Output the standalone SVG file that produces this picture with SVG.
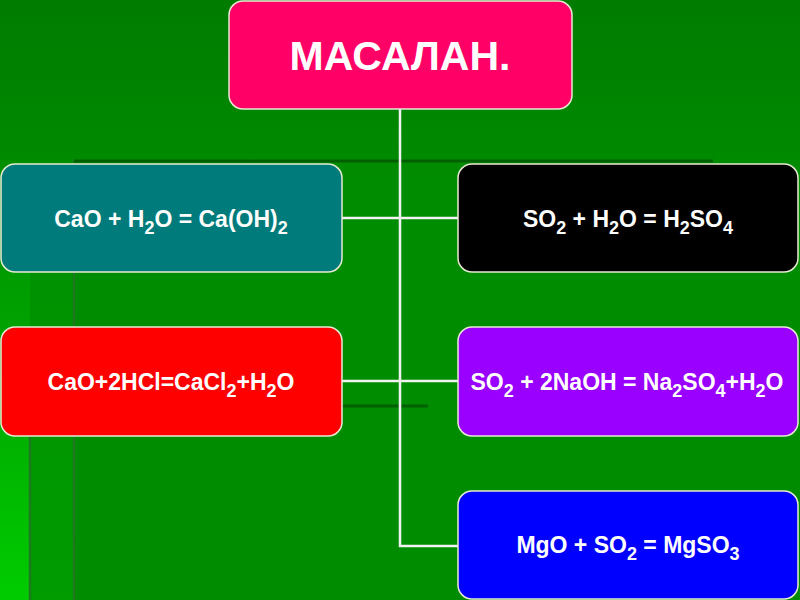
<svg xmlns="http://www.w3.org/2000/svg" width="800" height="600" viewBox="0 0 800 600">
<defs>
<linearGradient id="bg" x1="0" y1="0" x2="0" y2="1">
<stop offset="0" stop-color="#007c00"/>
<stop offset="0.3" stop-color="#008c00"/>
<stop offset="1" stop-color="#008c00"/>
</linearGradient>
<linearGradient id="strip" x1="0" y1="0" x2="0" y2="1">
<stop offset="0" stop-color="#008e00"/>
<stop offset="0.5" stop-color="#00a800"/>
<stop offset="1" stop-color="#00cc00"/>
</linearGradient>
<linearGradient id="strip2" x1="0" y1="0" x2="0" y2="1">
<stop offset="0" stop-color="#008e00"/>
<stop offset="1" stop-color="#009c00"/>
</linearGradient>
<style>
.box{stroke:#e6ead2;stroke-width:1.5}
.t{font-family:"Liberation Sans",Arial,sans-serif;font-weight:bold;fill:#ffffff;text-anchor:middle}
.eq{font-size:23px}
.s{font-size:18px}
.conn{stroke:#f2f2f2;stroke-width:2.5;fill:none}
.deco{stroke:#006000;stroke-width:3}
.decov{stroke:#1f7a1f;stroke-width:2.5}
</style>
</defs>
<g id="background">
<rect x="0" y="0" width="800" height="600" fill="url(#bg)"/>
<rect x="0" y="160" width="30" height="440" fill="url(#strip)"/>
<rect x="30" y="160" width="44" height="440" fill="url(#strip2)"/>
<line class="decov" x1="74" y1="160" x2="74" y2="600"/>
<line class="decov" x1="30" y1="406" x2="30" y2="600"/>
<line class="deco" x1="74" y1="161" x2="713" y2="161"/>
<line class="deco" x1="30" y1="406" x2="428" y2="406"/>
</g>
<g id="connectors">
<line class="conn" x1="400" y1="109" x2="400" y2="547"/>
<line class="conn" x1="342" y1="218" x2="458" y2="218"/>
<line class="conn" x1="342" y1="381" x2="458" y2="381"/>
<line class="conn" x1="399" y1="546" x2="458" y2="546"/>
</g>
<g id="title">
<rect class="box" x="229" y="1" width="343" height="108" rx="14" fill="#ff0066" stroke="#f5c8d8"/>
<text class="t" x="400" y="70" font-size="41">МАСАЛАН.</text>
</g>
<g id="cao-h2o">
<rect class="box" x="1" y="164" width="341" height="108" rx="14" fill="#007b7b"/>
<text class="t eq" x="171" y="227">CaO + H<tspan class="s" dy="7">2</tspan><tspan dy="-7">O = Ca(OH)</tspan><tspan class="s" dy="7">2</tspan></text>
</g>
<g id="so2-h2o">
<rect class="box" x="458" y="164" width="340" height="108" rx="14" fill="#000000"/>
<text class="t eq" x="628" y="227">SO<tspan class="s" dy="7">2</tspan><tspan dy="-7"> + H</tspan><tspan class="s" dy="7">2</tspan><tspan dy="-7">O = H</tspan><tspan class="s" dy="7">2</tspan><tspan dy="-7">SO</tspan><tspan class="s" dy="7">4</tspan></text>
</g>
<g id="cao-hcl">
<rect class="box" x="1" y="327" width="341" height="109" rx="14" fill="#ff0000" stroke="#f0d8b8"/>
<text class="t eq" x="171" y="390">CaO+2HCl=CaCl<tspan class="s" dy="7">2</tspan><tspan dy="-7">+H</tspan><tspan class="s" dy="7">2</tspan><tspan dy="-7">O</tspan></text>
</g>
<g id="so2-naoh">
<rect class="box" x="458" y="327" width="340" height="109" rx="14" fill="#9900ff"/>
<text class="t eq" x="627" y="390">SO<tspan class="s" dy="7">2</tspan><tspan dy="-7"> + 2NaOH = Na</tspan><tspan class="s" dy="7">2</tspan><tspan dy="-7">SO</tspan><tspan class="s" dy="7">4</tspan><tspan dy="-7">+H</tspan><tspan class="s" dy="7">2</tspan><tspan dy="-7">O</tspan></text>
</g>
<g id="mgo-so2">
<rect class="box" x="458" y="491" width="340" height="108" rx="14" fill="#0000ff" stroke="#c8d0f0"/>
<text class="t eq" x="628" y="553">MgO + SO<tspan class="s" dy="7">2</tspan><tspan dy="-7"> = MgSO</tspan><tspan class="s" dy="7">3</tspan></text>
</g>
</svg>
